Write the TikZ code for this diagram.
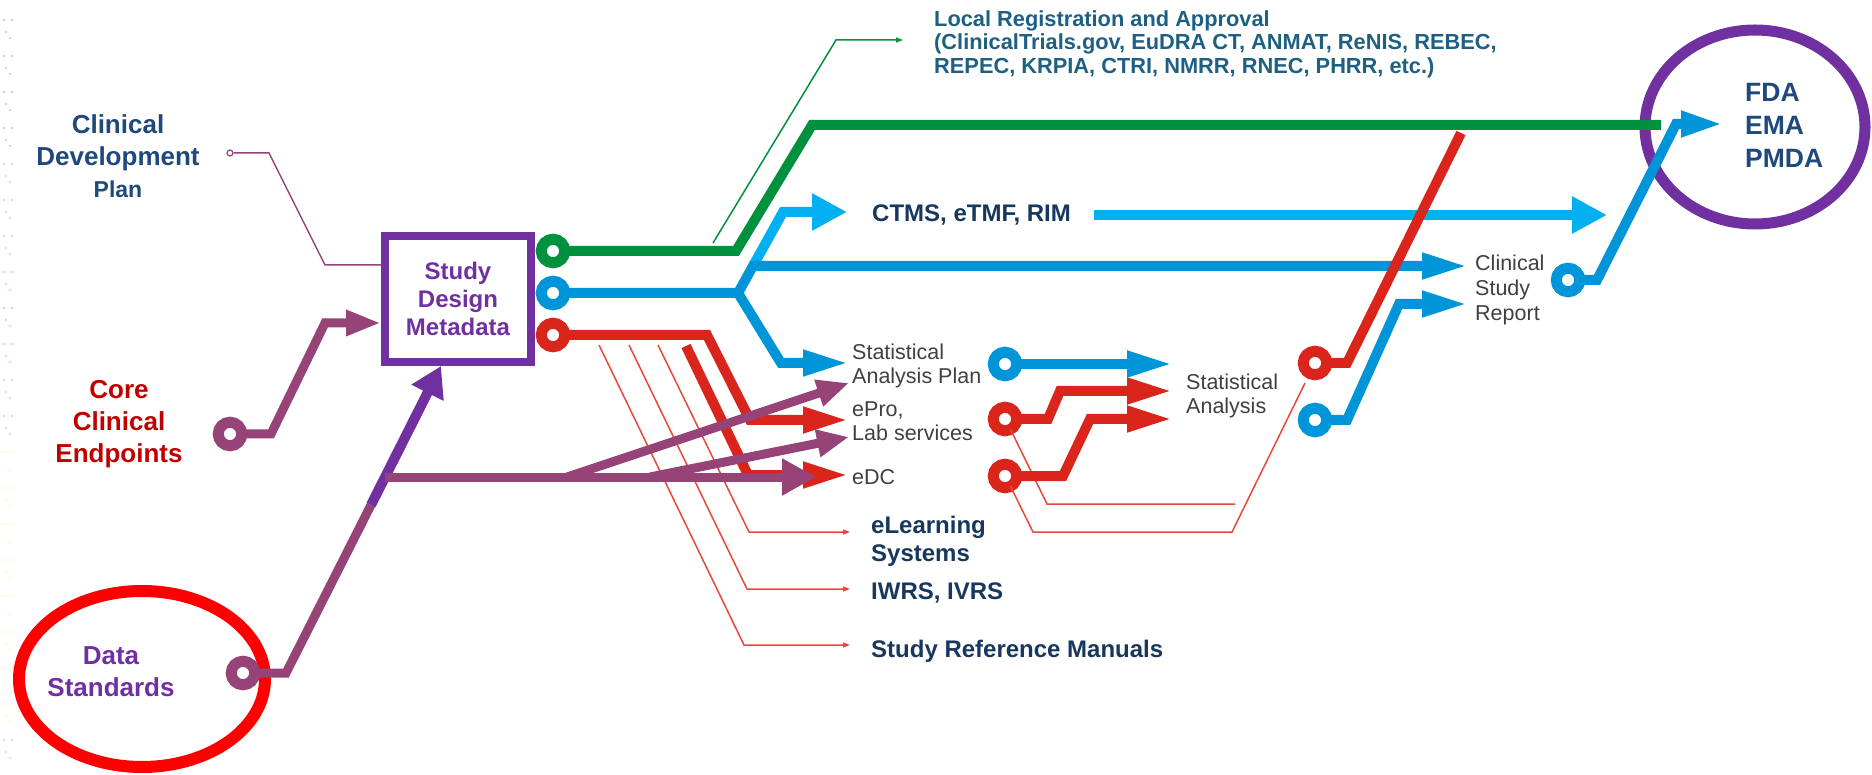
\documentclass[tikz,border=0pt]{standalone}
\usepackage{fontspec}
\setmainfont{Liberation Sans}
\usetikzlibrary{arrows.meta}
\definecolor{cmauve}{RGB}{150,68,120}
\definecolor{cpurple}{RGB}{112,48,160}
\definecolor{cgreen}{RGB}{0,145,63}
\definecolor{cblue}{RGB}{0,148,216}
\definecolor{clblue}{RGB}{0,176,240}
\definecolor{cred}{RGB}{218,37,29}
\definecolor{ctred}{RGB}{232,72,60}
\definecolor{cnavy}{RGB}{31,73,125}
\definecolor{cdnavy}{RGB}{23,55,94}
\definecolor{cteal}{RGB}{30,96,130}
\definecolor{cgray}{RGB}{64,64,64}
\definecolor{ccore}{RGB}{192,0,0}
\definecolor{cellred}{RGB}{255,0,0}
\begin{document}
\begin{tikzpicture}[x=1pt,y=-1pt,
  ring/.style={circle, draw=#1, line width=11pt, fill=white, minimum size=23.5pt, inner sep=0pt, outer sep=0pt},
  track/.style={draw=#1, line width=10pt, line join=miter},
  mtrack/.style={draw=cmauve, line width=9pt, line join=miter},
  wire/.style={draw=#1, line width=1.5pt},
  txt/.style={inner sep=0pt, align=left, anchor=west},
  ctxt/.style={inner sep=0pt, align=center},
  hbig/.style={-{Triangle[length=46pt,width=24pt]}},
  hctms/.style={-{Triangle[length=35pt,width=35pt]}},
  hsmall/.style={-{Triangle[length=7pt,width=5pt]}},
]
\useasboundingbox (0,0) rectangle (1872,775);

% faint decorative dots at the left edge
\foreach \yy/\cc in {20/cnavy,56/cnavy,92/cnavy,128/cnavy,164/cmauve,200/cmauve,236/cmauve,272/cred,308/cred,344/cred,380/cmauve,416/cmauve,452/yellow,488/yellow,524/yellow,560/yellow,596/yellow,632/yellow,668/yellow,704/yellow,740/cblue}{
  \fill[\cc!35] (4,\yy) circle (1.2pt);
  \fill[\cc!35] (12,\yy) circle (1.2pt);
  \fill[\cc!30] (6,\yy+12) circle (1.1pt);
  \fill[\cc!30] (10,\yy+18) circle (1.1pt);
}

% highlight ellipses
\draw[draw=cellred, line width=12pt] (142,679) ellipse [x radius=123pt, y radius=88pt];
\draw[draw=cpurple, line width=11pt] (1755,127) ellipse [x radius=110pt, y radius=97pt];

% left labels
\node[ctxt, text=cnavy, font=\fontsize{26}{32}\selectfont\bfseries] (cdp) at (118,156)
  {Clinical\\Development\\{\fontsize{23}{30}\selectfont Plan}};
\node[ctxt, text=ccore, font=\fontsize{26}{32}\selectfont\bfseries] (cce) at (119,424)
  {Core\\Clinical\\Endpoints};
\node[ctxt, text=cpurple, font=\fontsize{26}{32}\selectfont\bfseries] (dstd) at (111,672)
  {Data\\Standards};

% study design metadata box
\node[draw=cpurple, line width=8pt, minimum width=146pt, minimum height=126pt, inner sep=0pt,
  align=center, text=cpurple, font=\fontsize{24}{28}\selectfont\bfseries] (sdm) at (458,299)
  {Study\\Design\\Metadata};

% right-hand labels
\node[txt, text=cteal, font=\fontsize{21.8}{23.4}\selectfont\bfseries] (loc) at (934,44)
  {Local Registration and Approval\\(ClinicalTrials.gov, EuDRA CT, ANMAT, ReNIS, REBEC,\\REPEC, KRPIA, CTRI, NMRR, RNEC, PHRR, etc.)};
\node[txt, text=cdnavy, font=\fontsize{24}{28}\selectfont\bfseries] (ctms) at (872,215) {CTMS, eTMF, RIM};
\node[txt, text=cgray, font=\fontsize{21.5}{23.5}\selectfont] (sap) at (852,366) {Statistical\\Analysis Plan};
\node[txt, text=cgray, font=\fontsize{21.5}{24}\selectfont] (epro) at (852,421) {ePro,\\Lab services};
\node[txt, text=cgray, font=\fontsize{21.5}{24}\selectfont] (edc) at (852,477) {eDC};
\node[txt, text=cdnavy, font=\fontsize{24}{28}\selectfont\bfseries] (elearn) at (871,541) {eLearning\\Systems};
\node[txt, text=cdnavy, font=\fontsize{24}{28}\selectfont\bfseries] (iwrs) at (871,593) {IWRS, IVRS};
\node[txt, text=cdnavy, font=\fontsize{24}{28}\selectfont\bfseries] (srm) at (871,651) {Study Reference Manuals};
\node[txt, text=cgray, font=\fontsize{21.5}{23.5}\selectfont] (stat) at (1186,396) {Statistical\\Analysis};
\node[txt, text=cgray, font=\fontsize{21.5}{25}\selectfont] (csr) at (1475,290) {Clinical\\Study\\Report};
\node[txt, text=cnavy, font=\fontsize{26.5}{33}\selectfont\bfseries] (fda) at (1745,125) {FDA\\EMA\\PMDA};

% arrow end points
\coordinate (locin) at (903,40);
\coordinate (ctmsin) at (847,212);
\coordinate (ctmsout) at (1607,215);
\coordinate (sapin) at (849,363);
\coordinate (eproin) at (849,420);
\coordinate (edcin) at (849,475);
\coordinate (edcm) at (816,477);
\coordinate (sapm) at (849,383);
\coordinate (labm) at (849,437);
\coordinate (elin) at (850,532);
\coordinate (iwin) at (850,589);
\coordinate (srin) at (850,645);
\coordinate (stat1) at (1173,364);
\coordinate (stat2) at (1173,391);
\coordinate (stat3) at (1173,419);
\coordinate (csr1) at (1468,266);
\coordinate (csr2) at (1468,304);
\coordinate (fdain) at (1723,124);
\coordinate (greenend) at (1661,125);
\coordinate (redtop) at (1461,133);
\coordinate (lb1) at (1235,504);
\coordinate (lb2) at (1305,383);

% rings
\node[ring=cmauve] (rcce) at (230,434) {};
\node[ring=cmauve] (rds) at (243,673) {};
\node[ring=cgreen] (rg) at (553,251) {};
\node[ring=cblue] (rb) at (553,293) {};
\node[ring=cred] (rr) at (553,335) {};
\node[ring=cblue] (rsap) at (1005,364) {};
\node[ring=cred] (repro) at (1005,419) {};
\node[ring=cred] (redc) at (1005,476) {};
\node[ring=cred] (rsa1) at (1315,363) {};
\node[ring=cblue] (rsa2) at (1315,420) {};
\node[ring=cblue] (rcsr) at (1568,280) {};
\node[circle, draw=cmauve, line width=1.2pt, fill=white, minimum size=6pt, inner sep=0pt] (cdpdot) at (230,153) {};

% thin connectors
\draw[wire=cmauve] (cdpdot) -- (269,153) -- (325,265) -- ([yshift=34pt]sdm.west);
\draw[wire=cgreen, hsmall] (713,243) -- (836,40) -- (locin);
\draw[wire=ctred, hsmall] (599,345) -- (744,645) -- (srin);
\draw[wire=ctred, hsmall] (629,345) -- (747,589) -- (iwin);
\draw[wire=ctred, hsmall] (658,345) -- (749,532) -- (elin);
\draw[wire=ctred] (repro.-62) -- (1047,504) -- (lb1);
\draw[wire=ctred] (redc.-62) -- (1033,532) -- (1232,532) -- (lb2);

% inputs to the metadata box
\draw[mtrack, -{Triangle[length=35pt,width=24pt]}] (rcce) -- (271,434) -- (325,323) -- ([yshift=-24pt]sdm.west);
\draw[mtrack] (rds) -- (286,673) -- (371,505);
\draw[draw=cpurple, line width=10pt, -{Triangle[length=30pt,width=34pt]}] (371,505) -- ([xshift=-17pt]sdm.south);

% green track
\draw[track=cgreen] (rg) -- (736,251) -- (812,125) -- (greenend);

% blue tracks
\draw[track=clblue, hctms] (753,266) -- (783,212) -- (ctmsin);
\draw[track=cblue, hbig] (rb) -- (738,293) -- (753,266) -- (csr1);
\draw[track=cblue, hbig] (738,293) -- (781,363) -- (sapin);
\draw[track=clblue, hctms] ([xshift=23pt]ctms.east) -- (ctmsout);

% red tracks
\draw[track=cred, hbig] (rr) -- (707,335) -- (750,420) -- (eproin);
\draw[track=cred, hbig] (686,346) -- (748,475) -- (edcin);

% mauve trunk and branches
\draw[mtrack, -{Triangle[length=34pt,width=35pt]}] (385,477) -- (edcm);
\draw[mtrack, -{Triangle[length=32pt,width=26pt]}] (567,477) -- (sapm);
\draw[mtrack, -{Triangle[length=32pt,width=26pt]}] (650,477) -- (labm);

% statistical analysis inputs
\draw[track=cblue, hbig] (rsap) -- (stat1);
\draw[track=cred, hbig] (repro) -- (1048,419) -- (1060,391) -- (stat2);
\draw[track=cred, hbig] (redc) -- (1063,476) -- (1090,419) -- (stat3);

% outputs of statistical analysis
\draw[track=cred] (rsa1) -- (1347,363) -- (redtop);
\draw[track=cblue, hbig] (rsa2) -- (1347,420) -- (1399,304) -- (csr2);
\draw[track=cblue, -{Triangle[length=42pt,width=24pt]}] (rcsr) -- (1597,280) -- (1676,124) -- (fdain);
\end{tikzpicture}
\end{document}
